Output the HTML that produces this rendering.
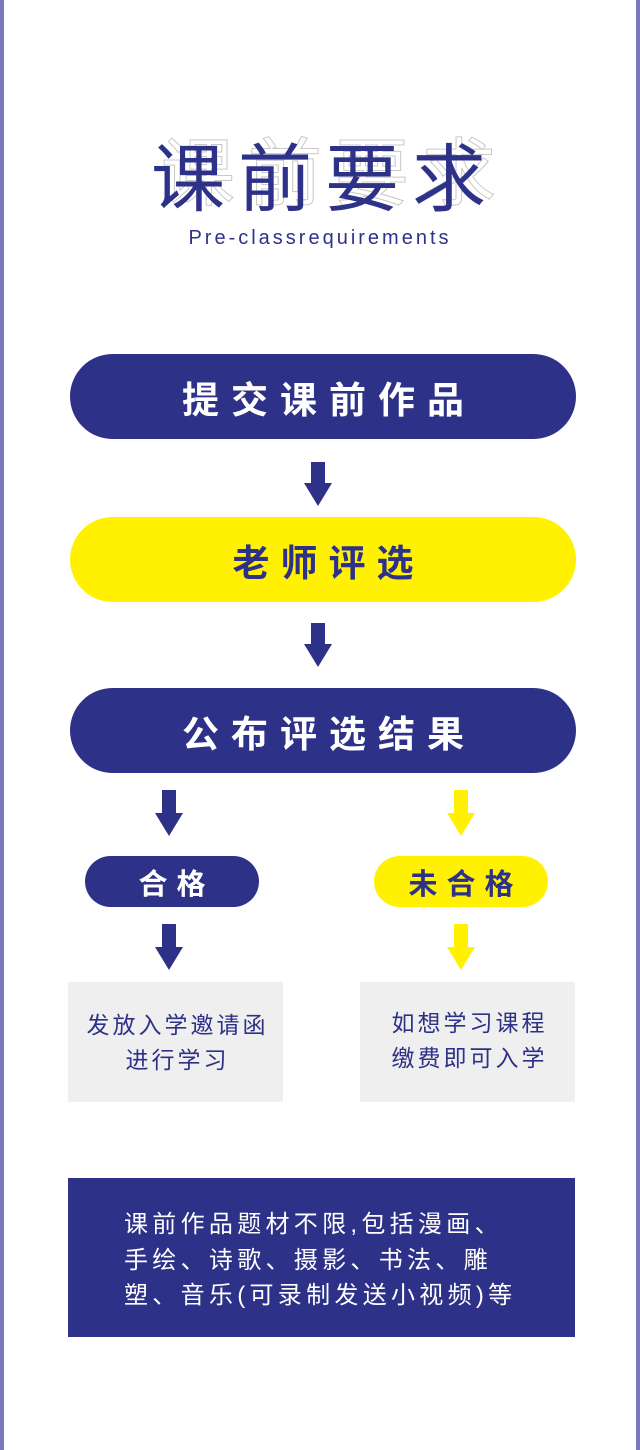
<!DOCTYPE html>
<html><head><meta charset="utf-8"><style>
*{margin:0;padding:0;box-sizing:border-box}
body{width:640px;height:1450px;background:#fff;position:relative;overflow:hidden;font-family:"Liberation Sans","Noto Sans CJK SC",sans-serif}
.a{position:absolute}
.bl{position:absolute;top:0;width:4px;height:1450px;background:#7a78b8}
.pill{position:absolute;border-radius:43px;display:flex;align-items:center;justify-content:center;font-weight:bold;white-space:nowrap}
.t{position:absolute;white-space:nowrap;text-align:center}
</style></head><body>
<div class="bl" style="left:0"></div>
<div class="bl" style="left:636px"></div>

<div class="t" style="left:160px;top:134px;width:350px;font-size:74px;color:transparent;-webkit-text-stroke:1px #c8c8c8;letter-spacing:13px;line-height:80px">课前要求</div>
<div class="t" style="left:150px;top:140px;width:350px;font-size:74px;color:#2e3188;letter-spacing:13px;line-height:80px;font-weight:400">课前要求</div>
<div class="t" style="left:140px;top:227px;width:360px;font-size:20px;color:#2e3188;letter-spacing:3px;line-height:22px">Pre-classrequirements</div>

<div class="pill" style="left:70px;top:354px;width:506px;height:85px;background:#2e3188;color:#fff;font-size:37px;letter-spacing:12px;padding-left:12px">提交课前作品</div>
<svg class="a" style="left:304px;top:462px" width="28" height="44"><rect x="7" y="0" width="14" height="22" fill="#2e3188"/><polygon points="0,21 28,21 14,44" fill="#2e3188"/></svg>
<div class="pill" style="left:70px;top:517px;width:506px;height:85px;background:#fff100;color:#2e3188;font-size:37px;letter-spacing:11px;padding-left:11px">老师评选</div>
<svg class="a" style="left:304px;top:623px" width="28" height="44"><rect x="7" y="0" width="14" height="22" fill="#2e3188"/><polygon points="0,21 28,21 14,44" fill="#2e3188"/></svg>
<div class="pill" style="left:70px;top:688px;width:506px;height:85px;background:#2e3188;color:#fff;font-size:37px;letter-spacing:12px;padding-left:12px">公布评选结果</div>

<svg class="a" style="left:155px;top:790px" width="28" height="46"><rect x="7" y="0" width="14" height="24" fill="#2e3188"/><polygon points="0,23 28,23 14,46" fill="#2e3188"/></svg>
<svg class="a" style="left:447px;top:790px" width="28" height="46"><rect x="7" y="0" width="14" height="24" fill="#fff100"/><polygon points="0,23 28,23 14,46" fill="#fff100"/></svg>
<div class="pill" style="left:85px;top:856px;width:174px;height:51px;background:#2e3188;color:#fff;font-size:29px;letter-spacing:9px;padding-left:9px">合格</div>
<div class="pill" style="left:374px;top:856px;width:174px;height:51px;background:#fff100;color:#2e3188;font-size:29px;letter-spacing:9px;padding-left:9px">未合格</div>
<svg class="a" style="left:155px;top:924px" width="28" height="46"><rect x="7" y="0" width="14" height="24" fill="#2e3188"/><polygon points="0,23 28,23 14,46" fill="#2e3188"/></svg>
<svg class="a" style="left:447px;top:924px" width="28" height="46"><rect x="7" y="0" width="14" height="24" fill="#fff100"/><polygon points="0,23 28,23 14,46" fill="#fff100"/></svg>

<div class="a" style="left:68px;top:982px;width:215px;height:120px;background:#efefef"></div>
<div class="a" style="left:360px;top:982px;width:215px;height:120px;background:#efefef"></div>
<div class="t" style="left:68px;top:1008px;width:219px;font-size:23px;line-height:35px;color:#2e3188;letter-spacing:3px">发放入学邀请函<br>进行学习</div>
<div class="t" style="left:360px;top:1006px;width:219px;font-size:23px;line-height:35px;color:#2e3188;letter-spacing:3px">如想学习课程<br>缴费即可入学</div>

<div class="a" style="left:68px;top:1178px;width:507px;height:159px;background:#2e3188"></div>
<div class="a" style="left:124px;top:1207px;font-size:24px;line-height:35.5px;color:#fff;letter-spacing:4.3px;white-space:nowrap">课前作品题材不限,包括漫画、<br>手绘、诗歌、摄影、书法、雕<br>塑、音乐(可录制发送小视频)等</div>
</body></html>
